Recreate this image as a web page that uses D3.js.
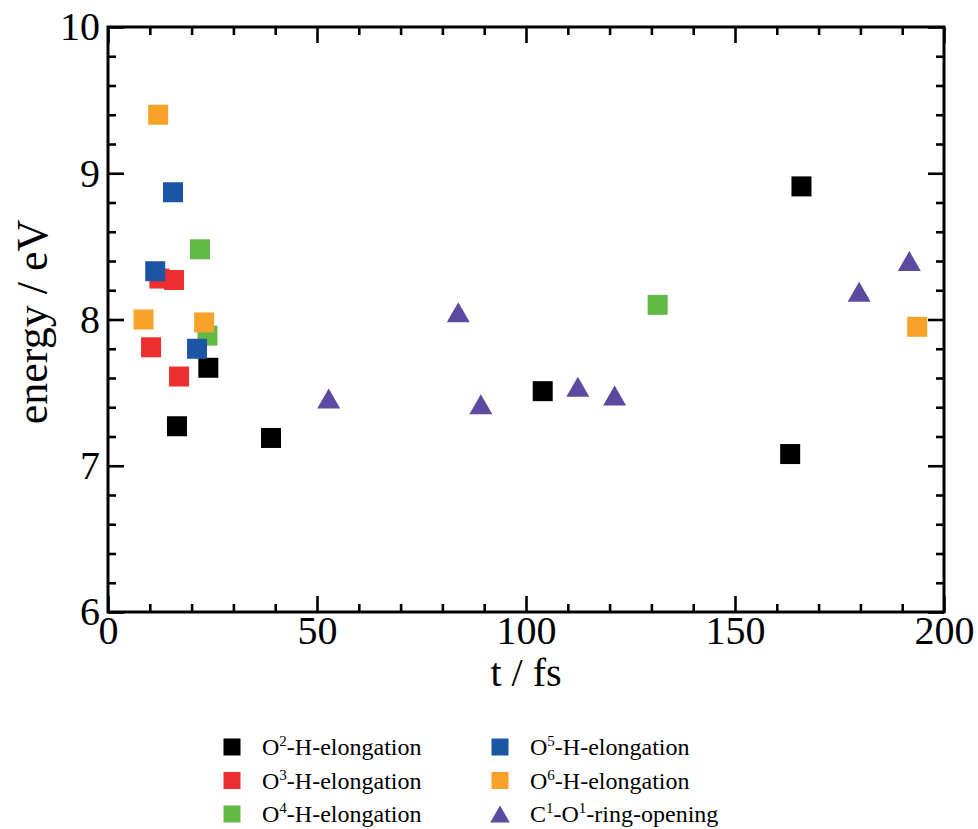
<!DOCTYPE html>
<html>
<head>
<meta charset="utf-8">
<script src="https://cdn.jsdelivr.net/npm/d3@7"></script>
<style>
html,body{margin:0;padding:0;background:#fff;}
svg{display:block;}
text{font-family:"Liberation Serif","Times New Roman",serif;fill:#000;}
</style>
</head>
<body>
<svg id="chart" width="978" height="829"></svg>
<script>
// ---- data (t / fs, energy / eV) ----
const o2T = [16.5, 24.0, 39.0, 104.0, 163.2, 165.9];
const o2E = [7.27, 7.67, 7.19, 7.51, 7.08, 8.91];
const o3T = [10.3, 12.3, 15.8, 17.0];
const o3E = [7.81, 8.28, 8.27, 7.61];
const o4T = [22.0, 23.8, 131.5];
const o4E = [8.48, 7.89, 8.10];
const o5T = [11.3, 15.55, 21.3];
const o5E = [8.33, 8.87, 7.80];
const o6T = [8.5, 12.0, 23.0, 193.6];
const o6E = [8.00, 9.40, 7.98, 7.95];
const c1T = [52.8, 83.8, 89.2, 112.4, 121.2, 179.7, 191.7];
const c1E = [7.46, 8.05, 7.42, 7.54, 7.48, 8.19, 8.40];

const seriesNames = ["O2", "O3", "O4", "O5", "O6", "C1"];
const seriesLabels = [
  ["O", "2", "-H-elongation"],
  ["O", "3", "-H-elongation"],
  ["O", "4", "-H-elongation"],
  ["O", "5", "-H-elongation"],
  ["O", "6", "-H-elongation"],
  ["C", "1", "-O", "1", "-ring-opening"]
];
const seriesColors = ["#000000", "#ee2f2f", "#62ba46", "#1d55a5", "#f8a22a", "#5b4a9f"];
const seriesShapes = ["square", "square", "square", "square", "square", "triangle"];
const seriesT = [o2T, o3T, o4T, o5T, o6T, c1T];
const seriesE = [o2E, o3E, o4E, o5E, o6E, c1E];

const xMajor = [0, 50, 100, 150, 200];
const yMajor = [6, 7, 8, 9, 10];

// ---- layout ----
const svg = d3.select("#chart");
const L = 108, R = 944, T = 27, B = 612;
const x = d3.scaleLinear().domain([0, 200]).range([L, R]);
const y = d3.scaleLinear().domain([6, 10]).range([B, T]);

const xMinor = d3.range(0, 201, 10).filter(v => v % 50 !== 0);
const yMinor = d3.range(6, 10.001, 0.2).map(v => +v.toFixed(1)).filter(v => Math.abs(v - Math.round(v)) > 1e-6);

const fontTick = 40;
const serif = "Liberation Serif, Times New Roman, serif";

function styleAxis(g) {
  g.select(".domain").remove();
  g.selectAll(".tick line").attr("stroke", "#000").attr("stroke-width", 2.6);
}

// bottom major
svg.append("g").attr("transform", `translate(0,${B})`)
  .call(d3.axisBottom(x).tickValues(xMajor).tickSize(-16).tickSizeOuter(0).tickPadding(4).tickFormat(d3.format("d")))
  .call(styleAxis)
  .call(g => g.selectAll("text").attr("font-size", fontTick).attr("font-family", serif));
// bottom minor
svg.append("g").attr("transform", `translate(0,${B})`)
  .call(d3.axisBottom(x).tickValues(xMinor).tickSize(-8).tickSizeOuter(0).tickFormat(""))
  .call(styleAxis);
// top major/minor
svg.append("g").attr("transform", `translate(0,${T})`)
  .call(d3.axisTop(x).tickValues(xMajor).tickSize(-16).tickSizeOuter(0).tickFormat(""))
  .call(styleAxis);
svg.append("g").attr("transform", `translate(0,${T})`)
  .call(d3.axisTop(x).tickValues(xMinor).tickSize(-8).tickSizeOuter(0).tickFormat(""))
  .call(styleAxis);
// left major
svg.append("g").attr("transform", `translate(${L},0)`)
  .call(d3.axisLeft(y).tickValues(yMajor).tickSize(-16).tickSizeOuter(0).tickPadding(8).tickFormat(d3.format("d")))
  .call(styleAxis)
  .call(g => g.selectAll("text").attr("font-size", fontTick).attr("font-family", serif));
svg.append("g").attr("transform", `translate(${L},0)`)
  .call(d3.axisLeft(y).tickValues(yMinor).tickSize(-8).tickSizeOuter(0).tickFormat(""))
  .call(styleAxis);
// right
svg.append("g").attr("transform", `translate(${R},0)`)
  .call(d3.axisRight(y).tickValues(yMajor).tickSize(-16).tickSizeOuter(0).tickFormat(""))
  .call(styleAxis);
svg.append("g").attr("transform", `translate(${R},0)`)
  .call(d3.axisRight(y).tickValues(yMinor).tickSize(-8).tickSizeOuter(0).tickFormat(""))
  .call(styleAxis);

// frame
svg.append("rect").attr("x", L).attr("y", T).attr("width", R - L).attr("height", B - T)
  .attr("fill", "none").attr("stroke", "#000").attr("stroke-width", 3);

// axis titles
svg.append("text").attr("x", (L + R) / 2).attr("y", 686).attr("text-anchor", "middle")
  .attr("font-size", 40).text("t / fs");
svg.append("text").attr("transform", `translate(47,322) rotate(-90)`).attr("text-anchor", "middle")
  .attr("font-size", 44).text("energy / eV");

// markers
function drawMarker(g, shape, cx, cy, size, color) {
  if (shape === "square") {
    g.append("rect").attr("x", cx - size / 2).attr("y", cy - size / 2)
      .attr("width", size).attr("height", size).attr("fill", color);
  } else {
    const w = size * 1.15, h = size;
    g.append("path").attr("d", `M${cx},${cy - h / 2}L${cx + w / 2},${cy + h / 2}L${cx - w / 2},${cy + h / 2}Z`)
      .attr("fill", color);
  }
}

const plot = svg.append("g");
seriesNames.forEach((name, i) => {
  const g = plot.append("g").attr("class", "series-" + name);
  seriesT[i].forEach((t, j) => {
    drawMarker(g, seriesShapes[i], x(t), y(seriesE[i][j]), 20, seriesColors[i]);
  });
});

// legend
const legCols = [232, 500];
const legTextX = [262, 530];
const legRows = [747, 780.5, 814];
const legend = svg.append("g");
seriesNames.forEach((name, i) => {
  const col = Math.floor(i / 3), row = i % 3;
  const cx = legCols[col], cy = legRows[row];
  drawMarker(legend, seriesShapes[i], cx, cy, 17, seriesColors[i]);
  const parts = seriesLabels[i];
  const txt = legend.append("text").attr("x", legTextX[col]).attr("y", cy + 8).attr("font-size", 24);
  parts.forEach((p, k) => {
    const sup = k % 2 === 1;
    txt.append("tspan").attr("font-size", sup ? 15 : 24)
      .attr("dy", sup ? -9 : (k > 0 ? 9 : 0)).text(p);
  });
});
</script>
</body>
</html>
